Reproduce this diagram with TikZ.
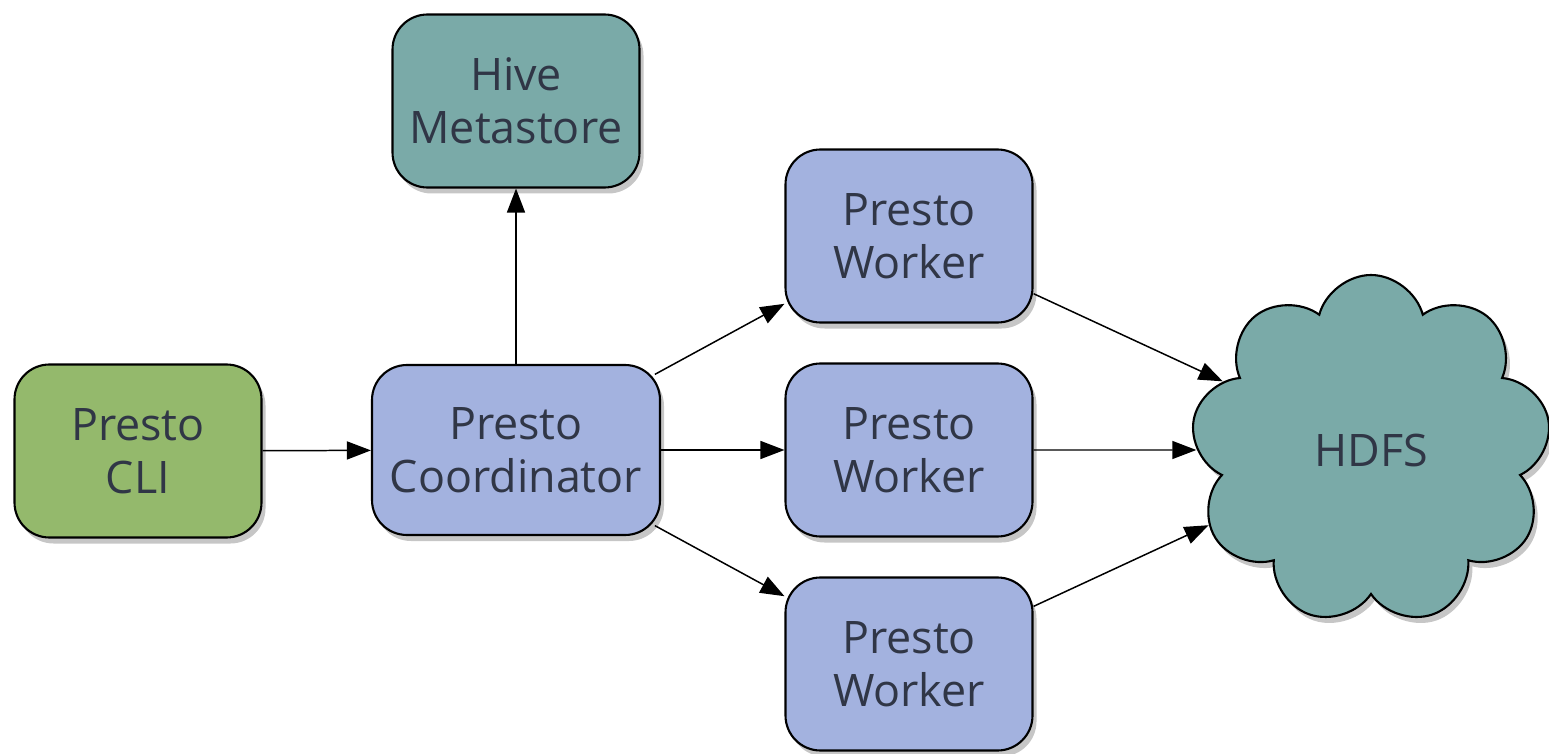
\documentclass[tikz,border=0pt]{standalone}
\usepackage{fontspec}
\setmainfont{Open Sans}
\usepackage{xcolor}
\usepackage{tikz}
\usetikzlibrary{shapes.symbols,shadows,arrows.meta}

\definecolor{cligreen}{HTML}{94B96C}
\definecolor{prestoblue}{HTML}{A3B2DF}
\definecolor{hiveteal}{HTML}{7AAAA8}
\definecolor{labelgrey}{HTML}{303646}

\tikzset{
    box/.style={draw=black, line width=1.2pt, rounded corners=0.7cm, align=center, text=labelgrey,
        font=\fontsize{25.5}{30}\selectfont, minimum width=4.94cm, minimum height=3.46cm,
        drop shadow={shadow xshift=0.08cm, shadow yshift=-0.12cm, opacity=0.45}},
    link/.style={-{Triangle[length=0.48cm, width=0.36cm]}, line width=0.85pt}
}

\begin{document}
\begin{tikzpicture}
                \useasboundingbox (0,0) rectangle (30.98,15.06);
                \node [box, fill=cligreen] (cli) at (2.76,6.04) {Presto\\CLI};
                \node [box, fill=prestoblue, minimum width=5.76cm, minimum height=3.4cm] (coord) at (10.32,6.06) {Presto\\Coordinator};
                \node [box, fill=hiveteal] (hive) at (10.32,13.04) {Hive\\Metastore};
                \node [box, fill=prestoblue] (w1) at (18.18,10.34) {Presto\\Worker};
                \node [box, fill=prestoblue] (w2) at (18.18,6.06) {Presto\\Worker};
                \node [box, fill=prestoblue] (w3) at (18.18,1.78) {Presto\\Worker};
                \node [cloud, cloud puffs=9, cloud puff arc=150, cloud ignores aspect, draw=black, line width=1.2pt, fill=hiveteal,
                    minimum width=7.2cm, minimum height=7.0cm, text=labelgrey, font=\fontsize{25.5}{30}\selectfont,
                    drop shadow={shadow xshift=0.08cm, shadow yshift=-0.12cm, opacity=0.45}] (hdfs) at (27.42,6.06) {HDFS};
                \draw [link] (cli) -- (coord);
                \draw [link] (coord) -- (hive);
                \draw [link, shorten <=-0.14cm] (coord) -- (w1);
                \draw [link] (coord) -- (w2);
                \draw [link, shorten <=-0.14cm] (coord) -- (w3);
                \draw [link] (w1) -- (hdfs);
                \draw [link] (w2) -- (hdfs);
                \draw [link] (w3) -- (hdfs);
\end{tikzpicture}
\end{document}
